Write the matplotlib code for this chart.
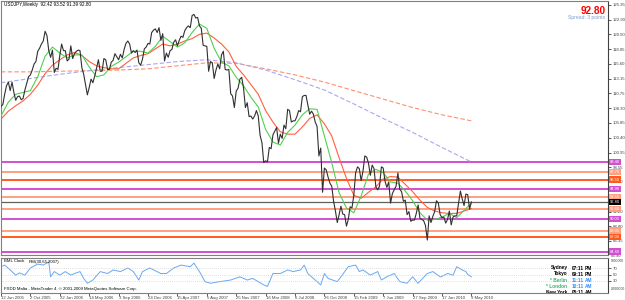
import matplotlib
matplotlib.use("Agg")
import matplotlib.pyplot as plt
import pandas as pd

plt.rcParams["font.family"] = ["Liberation Sans", "DejaVu Sans"]

# ---------------- data ----------------
start_date = "2005-06-12"
close = [108.6, 108.9, 110.6, 112.0, 112.6, 111.2, 112.6, 110.9, 109.6, 110.2,
         110.3, 109.7, 109.9, 111.3, 112.4, 113.5, 113.8, 114.6, 115.6, 116.0,
         117.7, 118.2, 118.9, 119.4, 121.0, 120.3, 117.8, 116.7, 117.9, 114.2,
         114.9, 114.7, 117.0, 118.9, 117.8, 117.8, 116.1, 116.4, 118.6, 116.5,
         117.3, 117.7, 117.9, 117.8, 115.0, 113.9, 112.2, 110.5, 111.7, 113.1,
         112.5, 113.6, 114.9, 116.3, 114.4, 114.4, 116.5, 116.3, 114.7, 114.7,
         115.9, 116.2, 117.3, 116.8, 116.3, 117.2, 116.6, 118.0, 119.0, 119.4,
         118.9, 117.4, 117.8, 117.5, 117.9, 115.8, 115.4, 116.4, 118.1, 118.4,
         119.0, 118.9, 120.8, 121.2, 121.4, 120.8, 121.6, 119.5, 120.6, 116.1,
         117.4, 116.7, 117.8, 118.0, 119.2, 119.6, 118.6, 119.5, 120.2, 120.0,
         121.1, 121.6, 121.9, 121.6, 123.6, 123.8, 123.2, 123.3, 121.9, 121.5,
         118.7, 118.6, 118.5, 114.4, 116.0, 115.8, 113.2, 114.6, 115.6, 114.8,
         117.1, 117.7, 114.7, 114.6, 114.7, 110.7, 110.3, 108.4, 111.1, 111.6,
         113.1, 113.4, 111.6, 108.4, 109.2, 106.9, 107.0, 106.5, 107.0, 107.9,
         107.0, 103.8, 102.6, 99.3, 99.6, 99.4, 101.8, 101.6, 103.9, 104.5,
         105.1, 102.5, 104.0, 103.3, 105.5, 104.9, 108.1, 107.9, 106.0, 106.2,
         106.2, 106.9, 107.9, 107.7, 110.2, 110.4, 110.4, 108.8, 107.3, 107.8,
         107.3, 106.0, 105.3, 100.4, 101.7, 94.4, 98.4, 98.1, 96.9, 95.9,
         95.4, 92.9, 91.3, 89.4, 90.7, 92.1, 90.8, 90.7, 88.8, 89.9,
         92.0, 91.8, 93.9, 97.6, 98.6, 98.3, 96.3, 97.9, 100.4, 100.2,
         99.2, 97.2, 98.9, 98.3, 95.3, 94.8, 95.4, 98.6, 98.4, 96.2,
         95.2, 96.1, 92.6, 94.2, 94.8, 95.4, 97.6, 94.9, 94.5, 92.9,
         93.1, 90.7, 91.2, 89.6, 89.8, 89.8, 90.9, 92.3, 90.1, 89.9,
         89.7, 88.9, 86.5, 90.5, 89.4, 90.4, 91.2, 93.0, 92.6, 90.7,
         90.2, 90.3, 89.3, 89.9, 91.3, 89.0, 90.3, 90.5, 90.5, 92.5,
         94.6, 93.3, 92.2, 94.1, 94.0, 91.6, 92.8]

ma_weeks = list(range(0, 257, 4))
ma_fast = [107.0, 109.3, 110.6, 110.9, 111.2, 113.5, 116.9, 118.4, 117.4, 116.6,
           117.1, 117.1, 115.1, 113.5, 113.8, 115.2, 115.9, 116.8, 117.7, 117.7,
           117.4, 118.5, 120.2, 119.3, 118.4, 119.1, 120.8, 122.2, 121.5, 118.2,
           115.9, 115.3, 113.4, 112.0, 110.1, 108.5, 104.8, 102.7, 102.2, 104.3,
           105.5, 107.2, 108.2, 108.1, 103.7, 99.3, 94.3, 91.8, 91.0, 93.8,
           97.4, 98.2, 97.6, 96.1, 95.9, 94.6, 93.0, 91.0, 89.8, 89.9,
           90.3, 90.9, 90.2, 91.4, 92.6]
ma_slow = [106.5, 107.8, 108.7, 109.5, 110.6, 112.1, 114.0, 115.4, 116.3, 117.1,
           117.5, 117.0, 116.0, 115.3, 115.0, 114.8, 114.8, 115.7, 116.6, 117.0,
           117.3, 118.1, 118.9, 118.6, 118.9, 119.4, 119.8, 120.5, 120.7, 119.9,
           118.9, 117.6, 115.2, 113.8, 112.2, 110.6, 107.9, 106.0, 104.4, 104.0,
           104.0, 105.2, 106.6, 107.2, 105.7, 103.7, 100.1, 96.7, 93.9, 93.4,
           94.4, 95.3, 96.6, 97.0, 96.9, 95.7, 94.5, 93.1, 91.9, 91.3,
           91.0, 90.9, 90.9, 91.3, 91.7]

long_weeks = list(range(0, 257, 16))
ma_long_a = [114.3, 114.3, 114.4, 114.5, 114.6, 114.8, 115.3, 115.8, 115.7,
             114.8, 113.8, 112.6, 111.2, 109.8, 108.4, 107.2, 106.2]
ma_long_b = [112.5, 113.2, 113.9, 114.5, 115.0, 115.5, 116.0, 116.3, 115.8,
             114.6, 113.0, 111.3, 109.0, 106.6, 104.3, 101.8, 99.4]

levels = [99.40, 97.70, 96.50, 94.90, 93.55, 91.60, 90.00, 88.05, 87.00, 84.60]
level_kind = ["m", "l", "o", "m", "l", "l", "m", "l", "o", "m"]
current_price = 92.80

rsi_weeks = [0, 2, 5, 8, 10, 13, 16, 20, 23, 26, 27, 29, 32, 35, 38, 40, 43, 45,
             47, 50, 54, 58, 61, 65, 69, 72, 75, 77, 81, 87, 90, 94, 98, 103, 105,
             108, 111, 114, 119, 125, 130, 134, 137, 143, 145, 148, 152, 156, 159,
             163, 165, 167, 171, 174, 176, 178, 183, 185, 189, 193, 195, 197, 201,
             205, 207, 210, 214, 217, 221, 224, 227, 232, 235, 239, 239.5, 243,
             246, 248, 251, 253, 254, 256]
rsi = [74, 79, 64, 48, 55, 48, 70, 82, 79, 89, 43, 59, 48, 59, 48, 53, 59, 38,
       23, 33, 59, 53, 64, 59, 70, 59, 33, 59, 70, 53, 53, 70, 79, 74, 85,
       59, 28, 23, 28, 33, 43, 33, 38, 18, 13, 53, 53, 64, 59,
       64, 79, 53, 33, 18, 53, 38, 28, 43, 74, 79, 59, 64, 48,
       59, 33, 43, 53, 28, 23, 43, 23, 53, 59, 43, 43, 53,
       48, 74, 64, 59, 50, 43]

date_ticks = ["12 Jun 2005", "2 Oct 2005", "22 Jan 2006", "14 May 2006",
              "3 Sep 2006", "24 Dec 2006", "15 Apr 2007", "5 Aug 2007",
              "25 Nov 2007", "16 Mar 2008", "6 Jul 2008", "26 Oct 2008",
              "15 Feb 2009", "7 Jun 2009", "27 Sep 2009", "17 Jan 2010",
              "9 May 2010"]
price_ticks = [125.35, 122.90, 120.50, 118.05, 115.60, 113.15, 110.75, 108.30,
               105.85, 103.40, 100.95, 98.55, 96.10, 93.65, 91.20, 88.80, 86.35]
price_ticks_hidden = [93.65]
price_tick_bottom = 83.90
rsi_ticks = [70, 50, 30]
rsi_scale_labels = ["9000000", "-9000000"]

header = "USDJPY,Weekly  92.42 93.52 91.39 92.80"
indicator_name = "BML Clock"
indicator_name2 = "RSI(30,65,2007)"
copyright_txt = "FXDD Malta - MetaTrader 4, \u00a9 2001-2009 MetaQuotes Software Corp."
clock_cities = ["Sydney", "Tokyo", "* Berlin", "* London", "New York"]
clock_times = ["07:11", "09:11", "11:11", "10:11", "05:11"]
clock_ampm = ["PM", "PM", "AM", "AM", "AM"]

# ---------------- layout ----------------
W, H, DPI = 625, 300, 100
fig = plt.figure(figsize=(W / DPI, H / DPI), dpi=DPI)
fig.patch.set_facecolor("white")

def frac_box(x0, y0, x1, y1):
    return [x0 / W, 1 - y1 / H, (x1 - x0) / W, (y1 - y0) / H]

ax = fig.add_axes(frac_box(0.5, 0.5, 608, 254.5))
axi = fig.add_axes(frac_box(0.5, 257.5, 608, 292.5))
AXW = 607.5
IH = 35.0

start = pd.Timestamp(start_date)
dates = pd.date_range(start, periods=len(close), freq="7D")
ma_dates = [start + pd.Timedelta(weeks=w) for w in ma_weeks]
long_dates = [start + pd.Timedelta(weeks=w) for w in long_weeks]
rsi_dates = [start + pd.Timedelta(weeks=w) for w in rsi_weeks]

px_per_week = 1.836
x_left = start + pd.Timedelta(weeks=(0.5 - 1) / px_per_week)
x_right = start + pd.Timedelta(weeks=(607.5 - 1) / px_per_week)

px_per_unit = 6.05
ref_price, ref_px = 125.35, 5.0
y_top = ref_price + (ref_px - 0.5) / px_per_unit
y_bot = ref_price - (254.5 - ref_px) / px_per_unit

col_m = "#d24fd2"
col_l = "#ff9f80"
col_o = "#ff5a1e"
kind_col = {"m": col_m, "l": col_l, "o": col_o}
SMALL = 3.1

# levels
for lv, k in zip(levels, level_kind):
    ax.axhline(lv, color=kind_col[k], lw=1.4, zorder=1)
ax.axhline(current_price, color="#606060", lw=0.9, zorder=1)

ax.plot(long_dates, ma_long_a, color="#ff9070", lw=0.8, dashes=(4, 2), zorder=2)
ax.plot(long_dates, ma_long_b, color="#a8a8f0", lw=0.8, dashes=(4, 2), zorder=2)
ax.plot(ma_dates, ma_slow, color="#ff6040", lw=0.8, zorder=3)
ax.plot(ma_dates, ma_fast, color="#50d050", lw=0.8, zorder=4)
ax.plot(dates, close, color="#303030", lw=0.8, zorder=5)

ax.set_xlim(x_left, x_right)
ax.set_ylim(y_bot, y_top)
ax.set_facecolor("white")
for s in ax.spines.values():
    s.set_color("#808080")
    s.set_linewidth(0.8)
ax.spines["right"].set_color("#404040")
ax.yaxis.tick_right()
ax.set_yticks(price_ticks)
ax.set_yticklabels(["" if t in price_ticks_hidden else f"{t:.2f}" for t in price_ticks])
ax.tick_params(axis="y", direction="out", length=2, width=0.6, pad=1.5,
               labelsize=SMALL, colors="#404040")
ax.set_xticks([])
ax.text(1.0045, (256 - 254.5) / -254, f"{price_tick_bottom:.2f}", transform=ax.transAxes,
        fontsize=SMALL, color="#404040", va="center", ha="left", clip_on=False)

# level labels on price scale
for lv, k in zip(levels, level_kind):
    ax.text(1.0035, lv, f"{lv:.2f}", transform=ax.get_yaxis_transform(),
            fontsize=2.9, color="white", va="center", ha="left", clip_on=False,
            zorder=6, bbox=dict(boxstyle="square,pad=0.3", fc=kind_col[k], ec="none"))
ax.text(1.0035, current_price, f"{current_price:.2f}", transform=ax.get_yaxis_transform(),
        fontsize=2.9, color="white", va="center", ha="left", clip_on=False,
        zorder=6, bbox=dict(boxstyle="square,pad=0.3", fc="black", ec="none"))

ax.text(3 / AXW, 1 - 1.5 / 254, header, transform=ax.transAxes, fontsize=3.3,
        va="top", ha="left", color="black")
ax.text(605 / AXW, 1 - 5 / 254, f"{current_price:.2f}", transform=ax.transAxes,
        fontsize=7.2, fontweight="bold", va="top", ha="right", color="#ff0000")
ax.text(605 / AXW, 1 - 14 / 254, "Spread: 3 points", transform=ax.transAxes,
        fontsize=3.6, va="top", ha="right", color="#7a9ccc")

# indicator panel
axi.plot(rsi_dates, rsi, color="#6aa8f0", lw=0.7)
axi.set_xlim(x_left, x_right)
rsi_ppu = 13 / 40
axi.set_ylim(30 - (292.5 - 281) / rsi_ppu, 70 + (268 - 257.5) / rsi_ppu)
for lvl in rsi_ticks:
    axi.axhline(lvl, color="#c0c0c0", lw=0.5, ls=(0, (1, 2)))
axi.yaxis.tick_right()
axi.set_yticks(rsi_ticks)
axi.tick_params(axis="y", direction="out", length=2, width=0.6, pad=1.5,
                labelsize=SMALL, colors="#404040")
for s in axi.spines.values():
    s.set_color("#808080")
    s.set_linewidth(0.8)
axi.spines["right"].set_color("#404040")
axi.text(1.004, 1 - 3 / IH, rsi_scale_labels[0], transform=axi.transAxes,
         fontsize=2.4, color="#404040", va="center", ha="left", clip_on=False)
axi.text(1.004, 3 / IH, rsi_scale_labels[1], transform=axi.transAxes,
         fontsize=2.4, color="#404040", va="center", ha="left", clip_on=False)

tick_dts = [pd.to_datetime(t) for t in date_ticks]
axi.set_xticks(tick_dts)
axi.set_xticklabels(date_ticks)
axi.tick_params(axis="x", direction="out", length=2, width=0.6, pad=0.6,
                labelsize=SMALL, colors="#404040")
for lab in axi.get_xticklabels():
    lab.set_horizontalalignment("left")

axi.text(3 / AXW, 1 - 2 / IH, indicator_name, transform=axi.transAxes,
         fontsize=SMALL, va="top", ha="left", color="black")
axi.text(28 / AXW, 1 - 2 / IH, indicator_name2, transform=axi.transAxes,
         fontsize=SMALL, va="top", ha="left", color="black")
axi.text(3 / AXW, 1.5 / IH, copyright_txt, transform=axi.transAxes,
         fontsize=SMALL, va="bottom", ha="left", color="black")

rows_px = [268, 274, 280, 286, 292]
for cty, tm, ap, ry in zip(clock_cities, clock_times, clock_ampm, rows_px):
    green = cty.startswith("*")
    yf = 1 - (ry - 257.5) / IH
    axi.text(567 / AXW, yf, cty, transform=axi.transAxes, fontsize=3.4,
             fontweight="bold", ha="right", va="center",
             color="#3cb371" if green else "black", clip_on=True)
    axi.text(571 / AXW, yf, tm, transform=axi.transAxes, fontsize=3.4,
             fontweight="bold", ha="left", va="center",
             color="#3c8cff" if green else "black", clip_on=True)
    axi.text(584 / AXW, yf, ap, transform=axi.transAxes, fontsize=3.4,
             fontweight="bold", ha="left", va="center",
             color="#3c8cff" if green else "black", clip_on=True)

fig.savefig("out.png", dpi=DPI)
